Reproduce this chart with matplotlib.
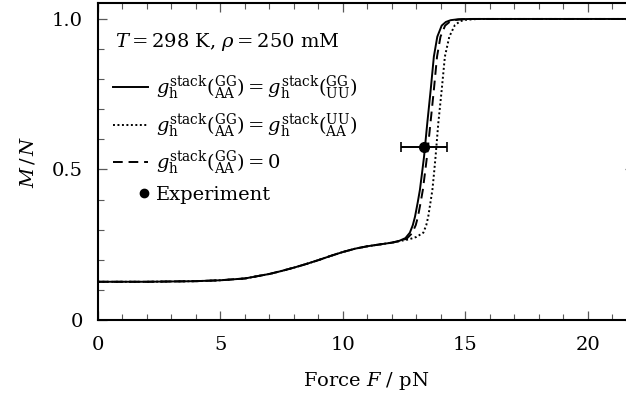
import numpy as np
import matplotlib
matplotlib.use('Agg')
import matplotlib.pyplot as plt
from matplotlib.ticker import MultipleLocator
from matplotlib.legend_handler import HandlerLine2D

plt.rcParams['font.family'] = 'DejaVu Serif'
plt.rcParams['mathtext.fontset'] = 'dejavuserif'
fontsize = 14

# ---------------- data ----------------
# shared low-force part of all three model curves
F_base = [0, 1, 2, 3, 4, 5, 6, 7, 7.5, 8, 8.5, 9, 9.5, 10, 10.5, 11, 11.5, 12]
M_base = [0.127, 0.127, 0.127, 0.128, 0.129, 0.132, 0.138, 0.153, 0.163, 0.174,
          0.186, 0.199, 0.213, 0.226, 0.237, 0.245, 0.251, 0.257]

# g(GG/AA) = g(GG/UU)   (solid)
F_solid = [12.3, 12.55, 12.73, 12.85, 12.94, 13.05, 13.14, 13.23, 13.31, 13.44,
           13.58, 13.71, 13.85, 14.03, 14.2, 14.4, 14.7, 15.2, 22.0]
M_solid = [0.263, 0.272, 0.290, 0.315, 0.343, 0.390, 0.432, 0.49, 0.543, 0.653,
           0.764, 0.875, 0.941, 0.978, 0.990, 0.996, 0.999, 1.0, 1.0]

# g(GG/AA) = g(UU/AA)   (dotted)
F_dot = [12.3, 12.7, 13.0, 13.28, 13.40, 13.48, 13.57, 13.65, 13.72, 13.78,
         13.89, 14.03, 14.16, 14.34, 14.57, 14.8, 15.0, 15.5, 22.0]
M_dot = [0.262, 0.268, 0.276, 0.290, 0.315, 0.343, 0.390, 0.432, 0.49, 0.543,
         0.653, 0.764, 0.875, 0.941, 0.980, 0.993, 0.997, 1.0, 1.0]

# g(GG/AA) = 0   (dashed)
F_dash = [12.3, 12.6, 12.82, 12.97, 13.06, 13.17, 13.26, 13.35, 13.43, 13.57,
          13.71, 13.84, 13.98, 14.17, 14.35, 14.55, 14.85, 15.3, 22.0]
M_dash = [0.262, 0.270, 0.288, 0.315, 0.343, 0.390, 0.432, 0.49, 0.543, 0.653,
          0.764, 0.875, 0.941, 0.978, 0.990, 0.996, 0.999, 1.0, 1.0]

# experiment
F_exp = [13.3]
M_exp = [0.575]
F_exp_err = [0.95]

lab_solid = r'$g_\mathrm{h}^\mathrm{stack}({}^\mathrm{GG}_\mathrm{AA}) = g_\mathrm{h}^\mathrm{stack}({}^\mathrm{GG}_\mathrm{UU})$'
lab_dot = r'$g_\mathrm{h}^\mathrm{stack}({}^\mathrm{GG}_\mathrm{AA}) = g_\mathrm{h}^\mathrm{stack}({}^\mathrm{UU}_\mathrm{AA})$'
lab_dash = r'$g_\mathrm{h}^\mathrm{stack}({}^\mathrm{GG}_\mathrm{AA}) = 0$'
lab_exp = 'Experiment'
title = r'$T = 298$ K, $\rho = 250$ mM'


class HandlerDotRight(HandlerLine2D):
    # put the single marker near the right end of the handle
    def create_artists(self, legend, orig_handle, xdescent, ydescent, width,
                       height, fontsize, trans):
        artists = super().create_artists(legend, orig_handle, xdescent, ydescent,
                                         width, height, fontsize, trans)
        for a in artists:
            a.set_xdata(np.asarray(a.get_xdata()) + 0.38 * width)
        return artists


# ---------------- plotting ----------------
fig = plt.figure(figsize=(6.26, 3.99), dpi=100)
ax = fig.add_axes([98/626, 1 - 320/399, 536/626, 317/399])

lw = 1.4
l1, = ax.plot(F_base + F_solid, M_base + M_solid, 'k-', lw=lw)
l2, = ax.plot(F_base + F_dot, M_base + M_dot, 'k', ls=(0, (1, 1.3)), lw=lw)
l3, = ax.plot(F_base + F_dash, M_base + M_dash, 'k', ls=(0, (5, 3)), lw=lw)
ax.errorbar(F_exp, M_exp, xerr=F_exp_err, fmt='o', color='k', ms=7,
            capsize=3.5, elinewidth=1.4, capthick=1.2)
l4, = ax.plot([], [], 'ko', ms=6)

ax.set_xlim(0, 21.88)
ax.set_ylim(0, 1.053)
ax.xaxis.set_major_locator(MultipleLocator(5))
ax.xaxis.set_minor_locator(MultipleLocator(1))
ax.set_yticks([0, 0.5, 1.0])
ax.set_yticklabels(['0', '0.5', '1.0'])
ax.yaxis.set_minor_locator(MultipleLocator(0.1))
ax.tick_params(which='both', direction='in', top=True, right=True,
               color='0.35', labelsize=fontsize)
ax.tick_params(which='major', length=6.5, width=0.9)
ax.tick_params(which='minor', length=4, width=0.8)
ax.tick_params(axis='x', which='major', pad=11.5)
ax.tick_params(axis='y', which='major', pad=11)
for s in ax.spines.values():
    s.set_linewidth(1.5)

ax.set_xlabel(r'Force $F$ / pN', fontsize=fontsize, labelpad=11.5)
ax.set_ylabel(r'$M\,/\,N$', fontsize=fontsize, labelpad=10.5)

ax.text(17/536, (320 - 42)/317, title, transform=ax.transAxes,
        fontsize=fontsize, va='center', ha='left')

leg = ax.legend([l1, l2, l3, l4], [lab_solid, lab_dot, lab_dash, lab_exp],
                loc='upper left', bbox_to_anchor=(15/536, (320 - 74)/317),
                frameon=False, fontsize=fontsize, handlelength=1.8,
                handletextpad=0.4, labelspacing=0.46, borderpad=0,
                borderaxespad=0, handler_map={l4: HandlerDotRight()})

fig.savefig('out.png', dpi=100)
